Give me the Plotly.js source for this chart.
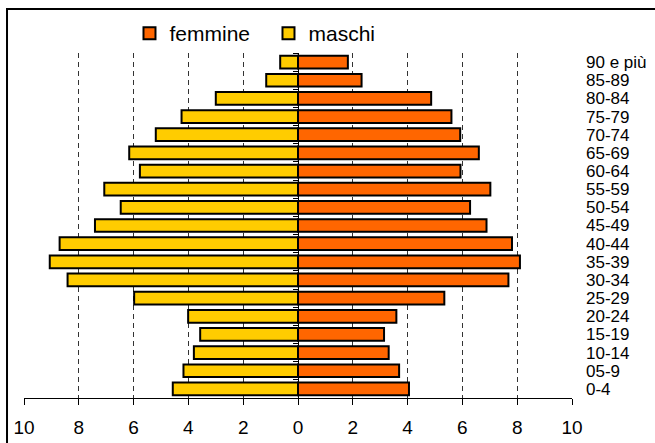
<!DOCTYPE html>
<html>
<head>
<meta charset="utf-8">
<script src="https://cdn.plot.ly/plotly-3.0.1.min.js"></script>
<style>
html,body{margin:0;padding:0;background:#fff;}
#chart{width:655px;height:443px;}
</style>
</head>
<body>
<div id="chart"></div>
<script>
const ageGroups = ["0-4","05-9","10-14","15-19","20-24","25-29","30-34","35-39","40-44","45-49","50-54","55-59","60-64","65-69","70-74","75-79","80-84","85-89","90 e più"];
const femmine = [4.05, 3.69, 3.31, 3.14, 3.59, 5.34, 7.68, 8.10, 7.81, 6.88, 6.28, 7.02, 5.93, 6.60, 5.92, 5.60, 4.86, 2.32, 1.82];
const maschi  = [4.57, 4.18, 3.80, 3.57, 4.01, 5.98, 8.41, 9.06, 8.70, 7.41, 6.47, 7.07, 5.77, 6.16, 5.19, 4.25, 3.00, 1.16, 0.65];
const xTickVals = [-10,-8,-6,-4,-2,0,2,4,6,8,10];
const xTickText = ["10","8","6","4","2","0","2","4","6","8","10"];

const traces = [
  {
    type: "bar", orientation: "h", name: "femmine",
    y: ageGroups, x: femmine, yaxis: "y",
    marker: {color: "#FF6600", line: {color: "#000", width: 2}},
    hoverinfo: "skip"
  },
  {
    type: "bar", orientation: "h", name: "maschi",
    y: ageGroups, x: maschi.map(v => -v), yaxis: "y2",
    marker: {color: "#FFCC00", line: {color: "#000", width: 2}},
    hoverinfo: "skip"
  }
];

const layout = {
  width: 655, height: 443,
  margin: {l: 24, r: 83, t: 53, b: 45},
  paper_bgcolor: "#fff", plot_bgcolor: "#fff",
  font: {family: "Liberation Sans, Arial, sans-serif", size: 19, color: "#000"},
  barmode: "relative",
  bargap: 0.3,
  showlegend: true,
  legend: {
    orientation: "h", x: 0.1925, xanchor: "left", y: 0.997, yanchor: "bottom",
    traceorder: "normal", font: {size: 21},
    itemwidth: 30, entrywidth: 94, bgcolor: "rgba(0,0,0,0)"
  },
  xaxis: {
    range: [-10, 10], tickvals: xTickVals, ticktext: xTickText,
    showgrid: true, gridcolor: "#333", griddash: "5px,4px", gridwidth: 1,
    zeroline: false, showline: true, linecolor: "#000", linewidth: 1,
    ticks: "outside", ticklen: 6, tickcolor: "#000",
    ticklabelstandoff: 6, fixedrange: true
  },
  yaxis: {
    type: "category", categoryarray: ageGroups, categoryorder: "array",
    side: "right", showgrid: false, zeroline: false, tickmode: "array", tickvals: ageGroups,
    tickfont: {size: 17},
    showline: false, ticks: "", ticklabelstandoff: 13, fixedrange: true
  },
  yaxis2: {
    type: "category", categoryarray: ageGroups, categoryorder: "array",
    overlaying: "y", anchor: "free", position: 0.5, side: "left",
    showgrid: false, zeroline: false, showticklabels: false,
    showline: true, linecolor: "#000", linewidth: 1,
    ticks: "outside", tickson: "boundaries", ticklen: 5, tickcolor: "#000",
    tickmode: "array", tickvals: ageGroups, fixedrange: true
  },
  shapes: [
    {type: "rect", xref: "paper", yref: "paper", x0: -0.031, x1: 1.25, y0: -0.3, y1: 1.1275,
     layer: "above", fillcolor: "rgba(0,0,0,0)", line: {color: "#000", width: 2}}
  ]
};

Plotly.newPlot("chart", traces, layout, {staticPlot: true, displayModeBar: false});
</script>
</body>
</html>
